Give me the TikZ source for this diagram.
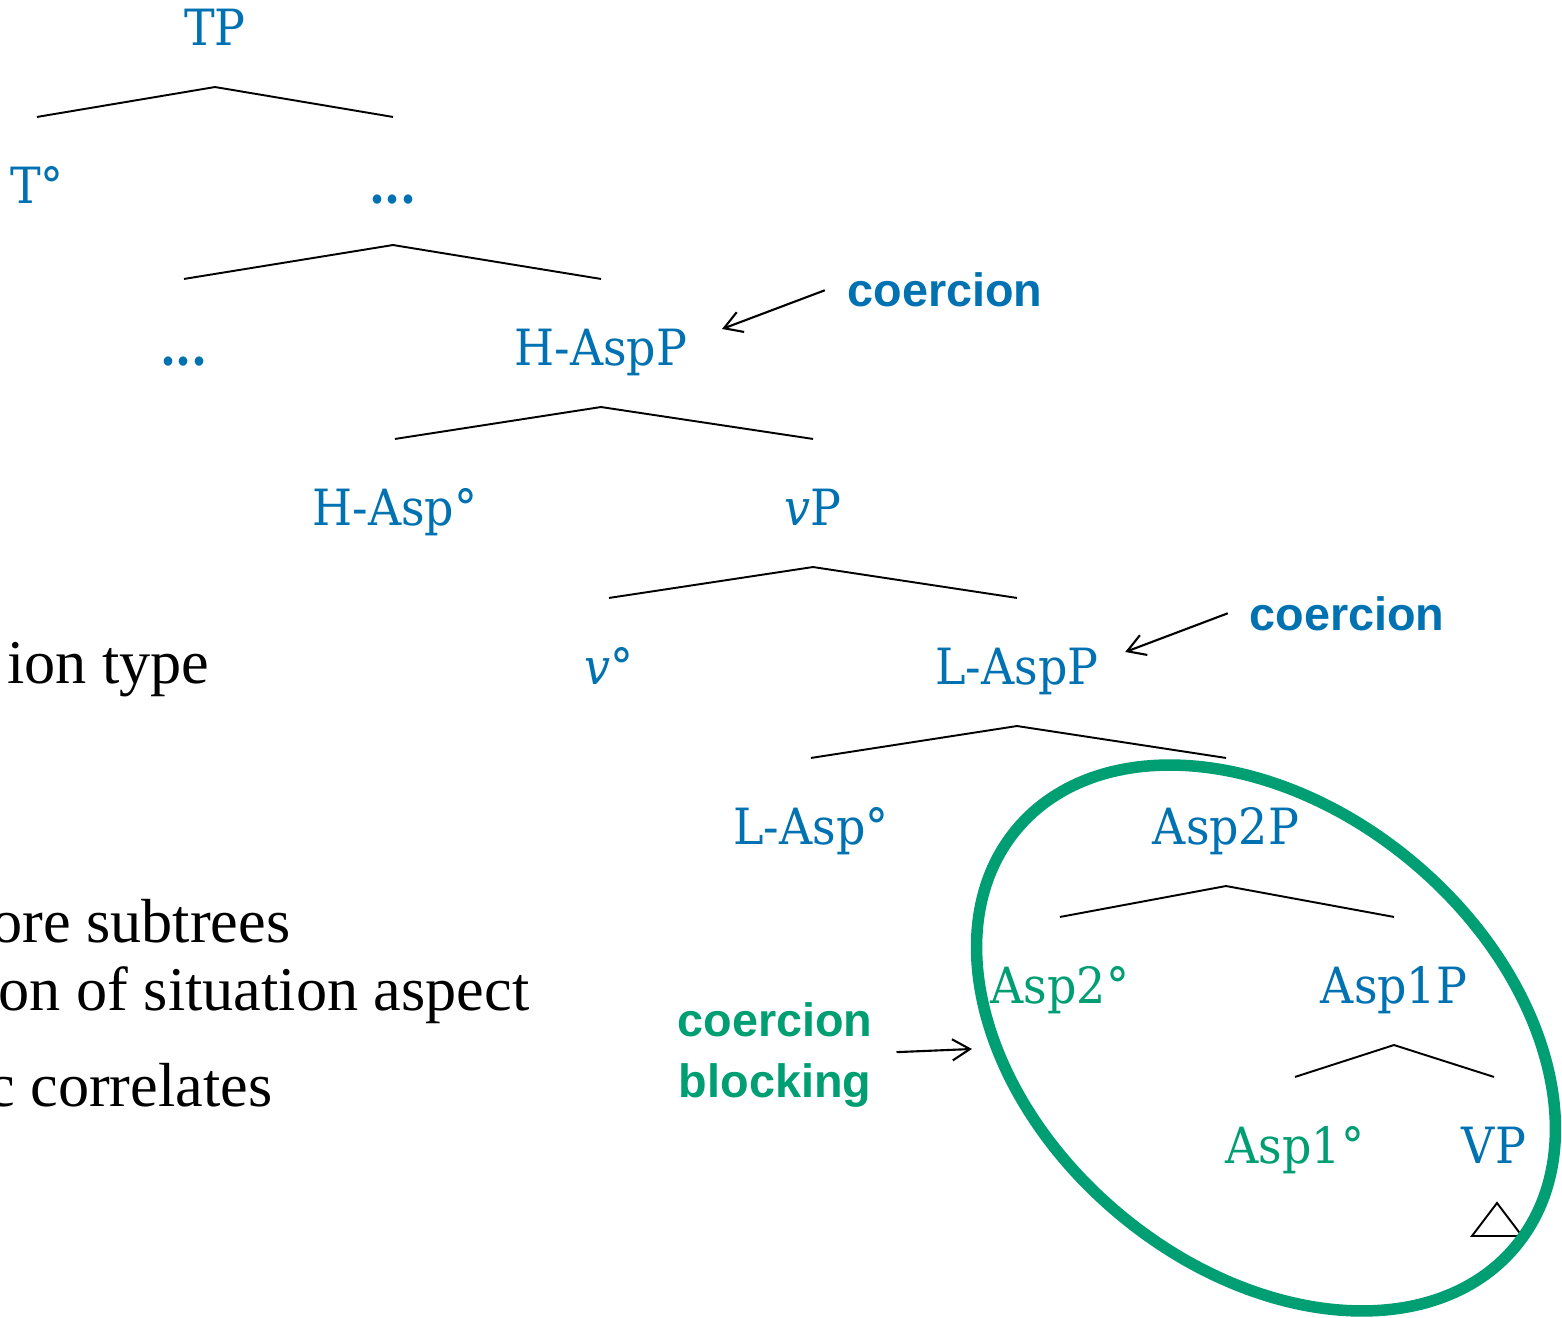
\documentclass[tikz,border=0pt]{standalone}
\usepackage{fontspec}
\setmainfont{Liberation Serif}
\newfontfamily\treefont[FakeStretch=0.92]{DejaVu Serif}
\newfontfamily\tagfont{Liberation Sans}
\usetikzlibrary{calc,arrows.meta}
\definecolor{catblue}{HTML}{0072B2}
\definecolor{catgreen}{HTML}{009E73}

\begin{document}
\begin{tikzpicture}[x=0.01cm,y=-0.01cm,
  cat/.style={anchor=base, inner sep=0pt, text=catblue, font=\treefont\fontsize{14.2}{16}\selectfont},
  head/.style={cat, text=catgreen},
  branch/.style={line width=0.55pt, black},
  tag/.style={anchor=base, inner sep=0pt, font=\tagfont\bfseries\fontsize{13.3}{16}\selectfont},
  bodytext/.style={anchor=base east, inner sep=0pt, font=\fontsize{17.7}{21}\selectfont},
  pointer/.style={line width=0.6pt, -{Straight Barb[length=5pt,width=6pt]}},
  ring/.style={line width=0.115cm, catgreen}
]
\useasboundingbox (0,0) rectangle (1562,1318);
\fill[white] (0,0) rectangle (1562,1318);
\clip (0,0) rectangle (1562,1318);

% running text on the left
\node[bodytext] (l1) at (210,683) {ion type};
\node[bodytext] (l2) at (291,942) {ore subtrees};
\node[bodytext] (l3) at (530,1010) {on of situation aspect};
\node[bodytext] (l4) at (273,1106) {c correlates};

% tree labels
\node[cat] (TP)    at (215,45)   {TP};
\node[cat] (Tdeg)  at (37,203)   {T°};
\node[cat] (dA)    at (393,203)  {\bfseries ...};
\node[cat] (dB)    at (184,365)  {\bfseries ...};
\node[cat] (HAspP) at (601,365)  {H-AspP};
\node[cat] (HAsp)  at (395,525)  {H-Asp°};
\node[cat] (vP)    at (813,525)  {\itshape v\upshape P};
\node[cat] (vdeg)  at (609,684)  {\itshape v\upshape °};
\node[cat] (LAspP) at (1017,684) {L-AspP};
\node[cat] (LAsp)  at (811,844)  {L-Asp°};
\node[cat] (A2P)   at (1226,844) {Asp2P};
\node[head] (A2)   at (1060,1003) {Asp2°};
\node[cat] (A1P)   at (1394,1003) {Asp1P};
\node[head] (A1)   at (1295,1163) {Asp1°};
\node[cat] (VP)    at (1494,1163) {VP};

% branches
\foreach \p/\l/\r in {TP/Tdeg/dA, dA/dB/HAspP, HAspP/HAsp/vP, vP/vdeg/LAspP,
                      LAspP/LAsp/A2P, A2P/A2/A1P, A1P/A1/VP}
  \draw[branch] ([yshift=0.86cm]\l.base) -- ([yshift=-0.42cm]\p.base) -- ([yshift=0.86cm]\r.base);

% collapsed VP
\draw[branch] ($(VP.base)+(3,40)$) -- ($(VP.base)+(-22,73)$) -- ($(VP.base)+(28,73)$) -- cycle;

% annotations
\node[tag, text=catblue] (c1) at (945,307) {coercion};
\node[tag, text=catblue] (c2) at (1347,630) {coercion};
\coordinate (t1) at ($(HAspP.base east)+(34,-36)$);
\coordinate (t2) at ($(LAspP.base east)+(26,-32)$);
\draw[pointer] ([xshift=-0.22cm]c1.west) -- (t1);
\draw[pointer] ([xshift=-0.21cm]c2.west) -- (t2);

\node[tag, text=catgreen] (cb1) at (775,1036) {coercion};
\node[tag, text=catgreen] (cb2) at (775,1097) {blocking};
\coordinate (t3) at (972,1049);
\draw[pointer] ($($(cb1.east)!0.5!(cb2.east)$)+(24,0)$) -- (t3);

% blocking domain
\draw[ring, rotate around={-40:(1266,1038)}] (1266,1038) ellipse [x radius=3.25cm, y radius=2.29cm];
\end{tikzpicture}
\end{document}
